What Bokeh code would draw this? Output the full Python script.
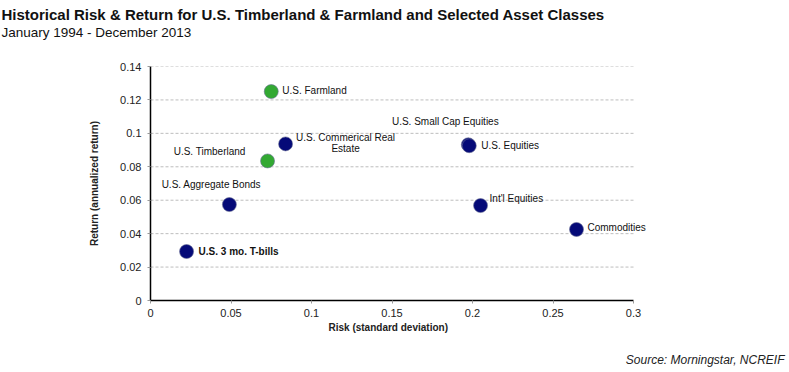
from bokeh.plotting import figure, ColumnDataSource
from bokeh.models import LabelSet, FixedTicker, Title
from bokeh.embed import file_html
from bokeh.resources import INLINE
from bokeh.core.properties import value

# ---- data ----
names = ["U.S. Farmland", "U.S. Timberland", "U.S. Commerical Real",
         "U.S. Aggregate Bonds", "U.S. 3 mo. T-bills", "U.S. Small Cap Equities",
         "U.S. Equities", "Int'l Equities", "Commodities"]
name_cont = ["", "", "Estate", "", "", "", "", "", ""]
risk = [0.075, 0.0727, 0.0839, 0.049, 0.0224, 0.1974, 0.198, 0.205, 0.2646]
ret = [0.125, 0.0835, 0.0937, 0.0574, 0.0293, 0.0932, 0.0926, 0.0568, 0.0425]
group = ["real", "real", "other", "other", "other", "other", "other", "other", "other"]
x_ticks = [0, 0.05, 0.1, 0.15, 0.2, 0.25, 0.3]
y_ticks = [0, 0.02, 0.04, 0.06, 0.08, 0.1, 0.12, 0.14]
title = "Historical Risk & Return for U.S. Timberland & Farmland and Selected Asset Classes"
subtitle = "January 1994 - December 2013"
x_label = "Risk (standard deviation)"
y_label = "Return (annualized return)"
source_note = "Source: Morningstar, NCREIF"

# ---- styles (label placement in pixels relative to each point) ----
colors = {"real": "#33a933", "other": "#050a78"}
lab_dx = [11, -22, 60, -18, 12, -23, 12, 9, 11]
lab_dy = [1, 9, 6, 20, 0, 23, 0, 7, 2]
cont_dy = [0, 0, -5, 0, 0, 0, 0, 0, 0]
lab_align = ["left", "right", "center", "center", "left", "center", "left", "left", "left"]
lab_style = ["normal", "normal", "normal", "normal", "bold", "normal", "normal", "normal", "normal"]

F = "Liberation Sans"
X_MAX = x_ticks[-1]
# frame extends 127px right of the 0.3 axis end so that right-hand labels are not clipped
X_END = X_MAX * (1 + 127 / 483)

p = figure(width=789, height=372, output_backend="svg", toolbar_location=None,
           x_range=(0, X_END), y_range=(0, y_ticks[-1]),
           min_border_left=150, min_border_right=29, min_border_top=66, min_border_bottom=72)
p.outline_line_color = None
p.background_fill_color = "white"

src = ColumnDataSource(dict(
    x=risk, y=ret, name=names, cont=name_cont,
    color=[colors[g] for g in group],
    dx=lab_dx, dy=lab_dy, cdy=cont_dy, align=lab_align, style=lab_style,
))

# dashed horizontal grid lines limited to the axis extent
p.segment(x0=0, x1=X_MAX, y0=y_ticks[1:], y1=y_ticks[1:], line_color="#bdbdbd",
          line_dash="3 2", line_width=1)

p.scatter("x", "y", source=src, size=14, fill_color="color", line_color="#6a6f95", line_width=0.6)
for col, dyc in (("name", "dy"), ("cont", "cdy")):
    p.add_layout(LabelSet(x="x", y="y", text=col, source=src, x_offset="dx", y_offset=dyc,
                          text_align="align", text_baseline="middle", text_font=value(F),
                          text_font_size="10px", text_font_style="style", text_color="#111111"))

for ax in (p.xaxis[0], p.yaxis[0]):
    ax.axis_line_color = "black"
    ax.axis_line_width = 1.5
    ax.major_tick_in = 0
    ax.major_tick_out = 3
    ax.major_tick_line_color = "#999999"
    ax.minor_tick_line_color = None
    ax.major_label_text_font = F
    ax.major_label_text_font_size = "11px"
    ax.major_label_text_color = "#222222"
    ax.axis_label_text_font = F
    ax.axis_label_text_font_size = "10px"
    ax.axis_label_text_font_style = "bold"
    ax.axis_label_text_color = "#222222"

p.xaxis.bounds = (0, X_MAX)
p.xaxis.ticker = FixedTicker(ticks=x_ticks)
p.yaxis.ticker = FixedTicker(ticks=y_ticks)
p.xaxis.major_label_overrides = {t: f"{t:g}" for t in x_ticks}
p.yaxis.major_label_overrides = {t: f"{t:g}" for t in y_ticks}
p.xaxis.major_label_standoff = 5
p.yaxis.major_label_standoff = 6
p.yaxis.axis_label = y_label
p.yaxis.axis_label_standoff = 17
p.xgrid.grid_line_color = None
p.ygrid.grid_line_color = None

# top titles: spacer nearest the frame, then subtitle, then title
p.add_layout(Title(text=" ", align="left", standoff=24, text_font=F,
                   text_font_size="1px"), "above")
p.add_layout(Title(text=subtitle, align="left", offset=-149, standoff=0, text_font=F,
                   text_font_size="13.5px", text_font_style="normal", text_color="#111111"), "above")
p.add_layout(Title(text=title, align="left", offset=-149, standoff=0, text_font=F,
                   text_font_size="15px", text_font_style="bold", text_color="#111111"), "above")
# x-axis label centred under the 0-0.3 axis span, a spacer, then the source note
p.add_layout(Title(text=x_label, align="left", offset=178, standoff=0, text_font=F,
                   text_font_size="10px", text_font_style="bold", text_color="#222222"), "below")
p.add_layout(Title(text=" ", align="left", standoff=10, text_font=F,
                   text_font_size="1px"), "below")
p.add_layout(Title(text=source_note, align="right", offset=-24, standoff=10, text_font=F,
                   text_font_size="12px", text_font_style="italic", text_color="#222222"), "below")

open("out.html", "w").write(file_html(p, INLINE))
